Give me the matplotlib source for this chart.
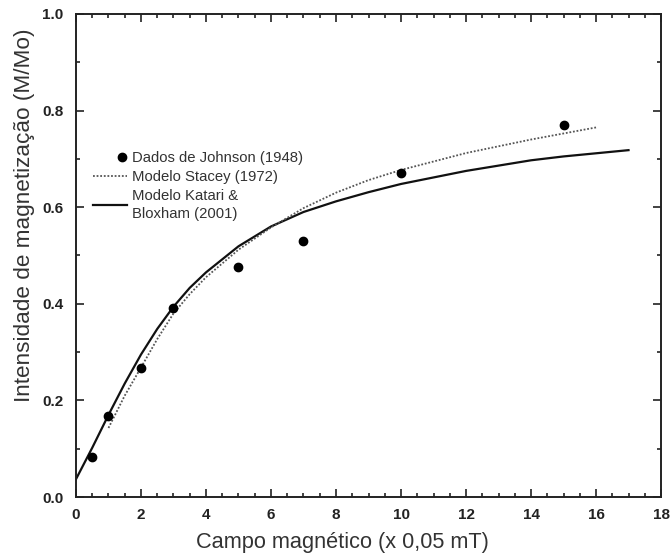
import matplotlib
matplotlib.use("Agg")
import matplotlib.pyplot as plt
from matplotlib.legend_handler import HandlerLine2D
from matplotlib.ticker import MultipleLocator
import numpy as np

# Data points (Johnson 1948)
johnson_x = [0.5, 1, 2, 3, 5, 7, 10, 15]
johnson_y = [0.083, 0.168, 0.268, 0.392, 0.477, 0.530, 0.670, 0.770]

# Stacey model (1972), dotted
stacey_x = [1, 1.5, 2, 2.5, 3, 3.5, 4, 5, 6, 7, 8, 9, 10, 12, 14, 16]
stacey_y = [0.143, 0.210, 0.268, 0.327, 0.380, 0.420, 0.455, 0.512, 0.558, 0.598, 0.630, 0.656, 0.677, 0.712, 0.740, 0.765]

# Katari & Bloxham model (2001), solid
katari_x = [0, 0.5, 1, 1.5, 2, 2.5, 3, 3.5, 4, 5, 6, 7, 8, 9, 10, 12, 14, 15, 17]
katari_y = [0.037, 0.102, 0.170, 0.235, 0.295, 0.348, 0.394, 0.433, 0.465, 0.519, 0.560, 0.590, 0.612, 0.631, 0.648, 0.675, 0.697, 0.705, 0.718]

x_ticks = [0, 2, 4, 6, 8, 10, 12, 14, 16, 18]
y_ticks = [0.0, 0.2, 0.4, 0.6, 0.8, 1.0]

fig = plt.figure(figsize=(6.7, 5.56), dpi=100)
ax = fig.add_axes([0.1134, 0.106, 0.8732, 0.869])

ax.plot(katari_x, katari_y, color="#111111", lw=1.6, label="Modelo Katari &\nBloxham (2001)")
ax.plot(stacey_x, stacey_y, color="#555555", lw=1.3, linestyle=(0, (1, 1)), label="Modelo Stacey (1972)")
ax.plot(johnson_x, johnson_y, "o", color="black", ms=6, label="Dados de Johnson (1948)")

ax.set_xlim(0, 18)
ax.set_ylim(0, 1.0)
ax.set_xticks(x_ticks)
ax.set_yticks(y_ticks)
ax.set_xticklabels([str(v) for v in x_ticks])
ax.set_yticklabels([f"{v:.1f}" for v in y_ticks])
ax.xaxis.set_minor_locator(MultipleLocator(0.5))
ax.yaxis.set_minor_locator(MultipleLocator(0.1))
ax.tick_params(which="both", direction="in", top=True, right=True, width=1.2, color="#222222")
ax.tick_params(which="major", length=6)
ax.tick_params(which="minor", length=3)
for lab in ax.get_xticklabels() + ax.get_yticklabels():
    lab.set_fontfamily("Liberation Sans")
    lab.set_fontweight("bold")
    lab.set_fontsize(11)
    lab.set_color("#222222")
ax.tick_params(axis="x", pad=8)
ax.tick_params(axis="y", pad=9)
for s in ax.spines.values():
    s.set_linewidth(1.4)
    s.set_color("#222222")

ax.set_xlabel("Campo magnético (x 0,05 mT)", fontfamily="Liberation Sans", fontsize=15.7, color="#333333")
ax.xaxis.set_label_coords(0.456, -0.072)
ax.set_ylabel("Intensidade de magnetização (M/Mo)", fontfamily="Liberation Sans", fontsize=16.2, color="#333333")
ax.yaxis.set_label_coords(-0.07, 0.583)


class RightMarkerHandler(HandlerLine2D):
    def get_xdata(self, legend, xdescent, ydescent, width, height, fontsize):
        # single marker drawn at the middle of xdata -> put it near the right end
        xdata = np.array([-xdescent + 0.70 * width, -xdescent + width])
        xdata_marker = np.array([-xdescent + 0.85 * width])
        return xdata, xdata_marker


handles, labels = ax.get_legend_handles_labels()
order = [2, 1, 0]
leg = ax.legend([handles[i] for i in order], [labels[i] for i in order],
                loc="upper left", bbox_to_anchor=(0.011, 0.738), frameon=False,
                handlelength=2.3, handletextpad=0.35, labelspacing=0.35,
                borderaxespad=0.3,
                prop={"family": "Liberation Sans", "size": 10.75},
                handler_map={handles[2]: RightMarkerHandler(numpoints=1)})
for t in leg.get_texts():
    t.set_color("#333333")
    t.set_linespacing(1.32)

fig.savefig("out.png", dpi=100)
